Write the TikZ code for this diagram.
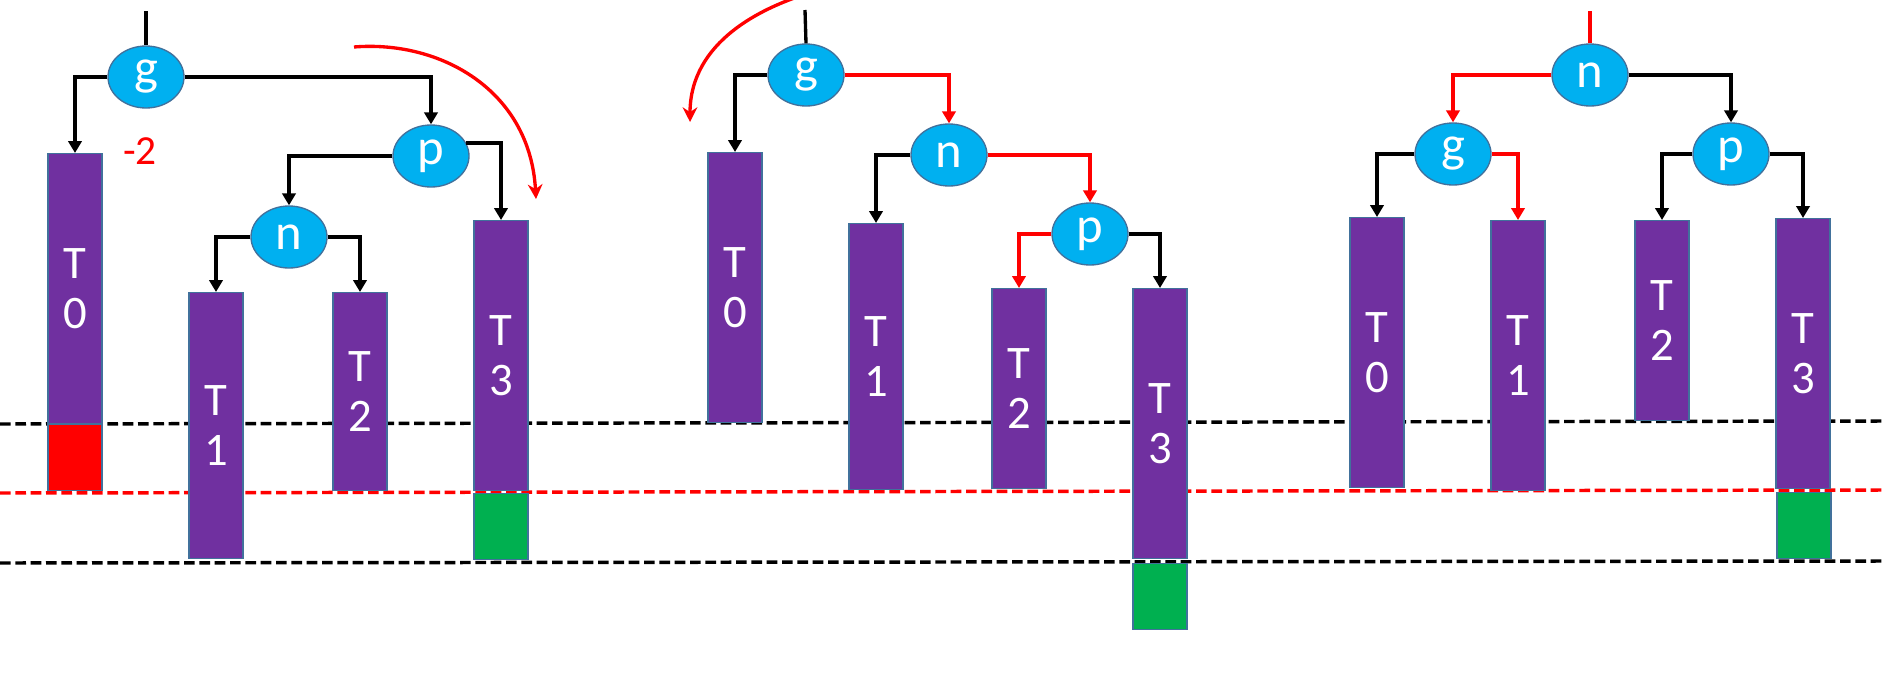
\documentclass[tikz,border=0pt]{standalone}
\usepackage{fontspec}
\setmainfont{Carlito}
\usetikzlibrary{shapes.geometric,arrows.meta}

\definecolor{nodeblue}{RGB}{0,176,240}
\definecolor{rimblue}{RGB}{65,113,156}
\definecolor{blkpurple}{RGB}{112,48,160}
\definecolor{blkgreen}{RGB}{0,176,80}

\tikzset{
  rb/.style={ellipse, fill=nodeblue, draw=rimblue, line width=1pt, minimum width=57pt, minimum height=46.5pt, inner sep=0pt, text=white, font=\fontsize{38}{40}\selectfont},
  blk/.style={rectangle, fill=blkpurple, draw=rimblue, line width=1pt, minimum width=40.5pt, inner sep=0pt, anchor=north, text=white, align=center, font=\fontsize{35}{37}\selectfont},
  lost/.style={blk, fill=red},
  gain/.style={blk, fill=blkgreen},
  arm/.style={line width=2.5pt, -{Triangle[width=10pt,length=9pt]}},
  hotarm/.style={arm, red},
  swing/.style={red, line width=2.5pt, -{Stealth[width=11pt,length=11pt]}},
  depthline/.style={line width=2.6pt, dash pattern=on 8pt off 3.5pt}
}

\begin{document}
\begin{tikzpicture}[x=0.75pt,y=0.75pt,yscale=-1,xscale=1]
\fill[white] (0,0) rectangle (1884,678);
\clip (0,0) rectangle (1884,678);

%Dashed levels
\draw[depthline] (0,424) -- (1884,421);
\draw[depthline, red] (0,493) -- (1884,490);
\draw[depthline] (0,563) -- (1884,561);

%---------- before the turn ----------
\node[rb] (g1) at (146,77) {g};
\node[rb] (p1) at (431,156) {p};
\node[rb] (n1) at (289,237) {n};
\node[blk, minimum height=202.5pt] (a0) at (75,153) {T\\0};
\node[blk, minimum height=199.5pt] (a1) at (216,292) {T\\1};
\node[blk, minimum height=148.5pt] (a2) at (360,292) {T\\2};
\node[blk, minimum height=202.5pt] (a3) at (501,220) {T\\3};
\node[lost, minimum height=49.5pt] (a0x) at (75,424) {};
\node[gain, minimum height=49.5pt] (a3x) at (501,493) {};
\node[text=red, font=\fontsize{31}{34}\selectfont] (bal) at (140,151) {-2};
\coordinate (in1) at (146,11);
\coordinate (sw1a) at (354,47);
\coordinate (sw1b) at (536,199);

\draw[line width=2.5pt] (in1) -- (g1.north);
\draw[arm] (g1.west) -| (a0.north);
\draw[arm] (g1.east) -| (p1.north);
\draw[arm] (p1.west) -| (n1.north);
\draw[arm] (p1.20) -| (a3.north);
\draw[arm] (n1.west) -| (a1.north);
\draw[arm] (n1.east) -| (a2.north);
\draw[swing] (sw1a) .. controls (440,40) and (530,90) .. (sw1b);

%---------- after the first turn ----------
\node[rb] (g2) at (806,75) {g};
\node[rb] (n2) at (949,155) {n};
\node[rb] (p2) at (1090,234) {p};
\node[blk, minimum height=202.5pt] (b0) at (735,152) {T\\0};
\node[blk, minimum height=199.5pt] (b1) at (876,223) {T\\1};
\node[blk, minimum height=150pt] (b2) at (1019,288) {T\\2};
\node[blk, minimum height=202.5pt] (b3) at (1160,288) {T\\3};
\node[gain, minimum height=49.5pt] (b3x) at (1160,563) {};
\coordinate (in2) at (805,10);
\coordinate (sw2a) at (800,-4);
\coordinate (sw2b) at (690,122);

\draw[line width=2.5pt] (in2) -- (g2.north);
\draw[arm] (g2.west) -| (b0.north);
\draw[hotarm] (g2.east) -| (n2.north);
\draw[arm] (n2.west) -| (b1.north);
\draw[hotarm] (n2.east) -| (p2.north);
\draw[hotarm] (p2.west) -| (b2.north);
\draw[arm] (p2.east) -| (b3.north);
\draw[swing] (sw2a) .. controls (765,8) and (690,40) .. (sw2b);

%---------- after the second turn ----------
\node[rb] (n3) at (1590,75) {n};
\node[rb] (g3) at (1453,154) {g};
\node[rb] (p3) at (1731,154) {p};
\node[blk, minimum height=202.5pt] (c0) at (1377,217) {T\\0};
\node[blk, minimum height=202.5pt] (c1) at (1518,220) {T\\1};
\node[blk, minimum height=150pt] (c2) at (1662,220) {T\\2};
\node[blk, minimum height=202.5pt] (c3) at (1803,218) {T\\3};
\node[gain, minimum height=49.5pt] (c3x) at (1804,492) {};
\coordinate (in3) at (1590,11);

\draw[line width=2.5pt, red] (in3) -- (n3.north);
\draw[hotarm] (n3.west) -| (g3.north);
\draw[arm] (n3.east) -| (p3.north);
\draw[arm] (g3.west) -| (c0.north);
\draw[hotarm] (g3.east) -| (c1.north);
\draw[arm] (p3.west) -| (c2.north);
\draw[arm] (p3.east) -| (c3.north);

\end{tikzpicture}
\end{document}
